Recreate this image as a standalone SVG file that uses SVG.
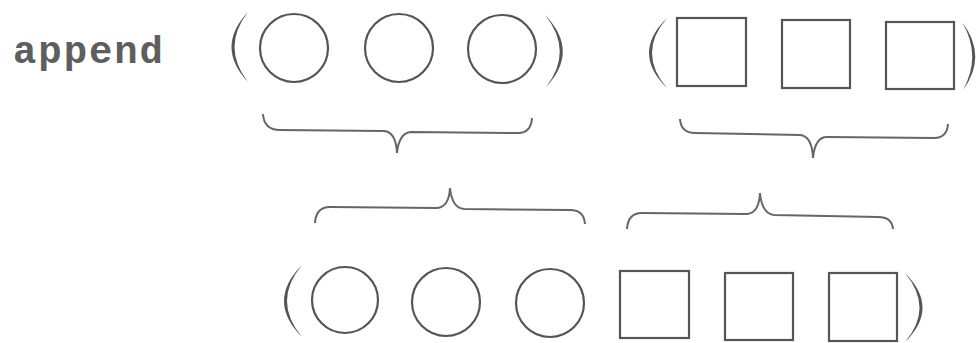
<svg xmlns="http://www.w3.org/2000/svg" width="978" height="343" viewBox="0 0 978 343">
<style>
.sh{fill:none;stroke:#555;stroke-width:2.2}
.br{fill:none;stroke:#666;stroke-width:2}
.pa{fill:#555;stroke:none}
</style>
<rect width="978" height="343" fill="#fff"/>
<g id="label-append"><text x="13" y="63" font-family="Liberation Mono, Courier New, monospace" font-weight="bold" font-size="39" fill="#5e5e5e" textLength="150" lengthAdjust="spacing">append</text></g>
<g id="list1">
<path class="pa" d="M248 12 Q215 47 248 82 Q221 47 248 12 Z"/>
<path class="pa" d="M545 15 Q580 51 546 87 Q574 51 545 15 Z"/>
</g>
<g id="c1"><circle class="sh" cx="294" cy="48" r="34"/></g>
<g id="c2"><circle class="sh" cx="399" cy="48" r="34"/></g>
<g id="c3"><circle class="sh" cx="502" cy="49" r="34"/></g>
<g id="list2">
<path class="pa" d="M667 18 Q631 53 667 88 Q637 53 667 18 Z"/>
<path class="pa" d="M962 22 Q988 56 963 90 Q982 56 962 22 Z"/>
</g>
<g id="s1"><rect class="sh" x="677" y="18" width="69" height="68"/></g>
<g id="s2"><rect class="sh" x="782" y="20" width="68" height="68"/></g>
<g id="s3"><rect class="sh" x="886" y="22" width="68" height="67"/></g>
<g id="connectors">
<path class="br" d="M263 114 Q264 130 280 130 L384 131 Q396 132 397 153 Q399 133 411 132 L518 133 Q531 133 532 118"/>
<path class="br" d="M680 119 Q681 133 695 133 L800 135 Q812 136 813 158 Q815 137 827 137 L934 138 Q947 138 948 124"/>
<path class="br" d="M315 223 Q316 207 330 207 L437 208 Q449 207 450 188 Q452 208 464 209 L570 210 Q584 210 585 224"/>
<path class="br" d="M627 229 Q628 213 642 213 L747 214 Q759 213 760 193 Q762 214 774 215 L878 217 Q892 217 893 229"/>
</g>
<g id="result">
<path class="pa" d="M302 265 Q266 301 302 337 Q272 301 302 265 Z"/>
<path class="pa" d="M905 273 Q940 308 905 342 Q934 308 905 273 Z"/>
</g>
<g id="rc1"><circle class="sh" cx="345" cy="300" r="33"/></g>
<g id="rc2"><circle class="sh" cx="446" cy="302" r="34"/></g>
<g id="rc3"><circle class="sh" cx="550" cy="303" r="34"/></g>
<g id="rs1"><rect class="sh" x="620" y="271" width="69" height="67"/></g>
<g id="rs2"><rect class="sh" x="725" y="273" width="68" height="67"/></g>
<g id="rs3"><rect class="sh" x="829" y="273" width="68" height="68"/></g>
</svg>
